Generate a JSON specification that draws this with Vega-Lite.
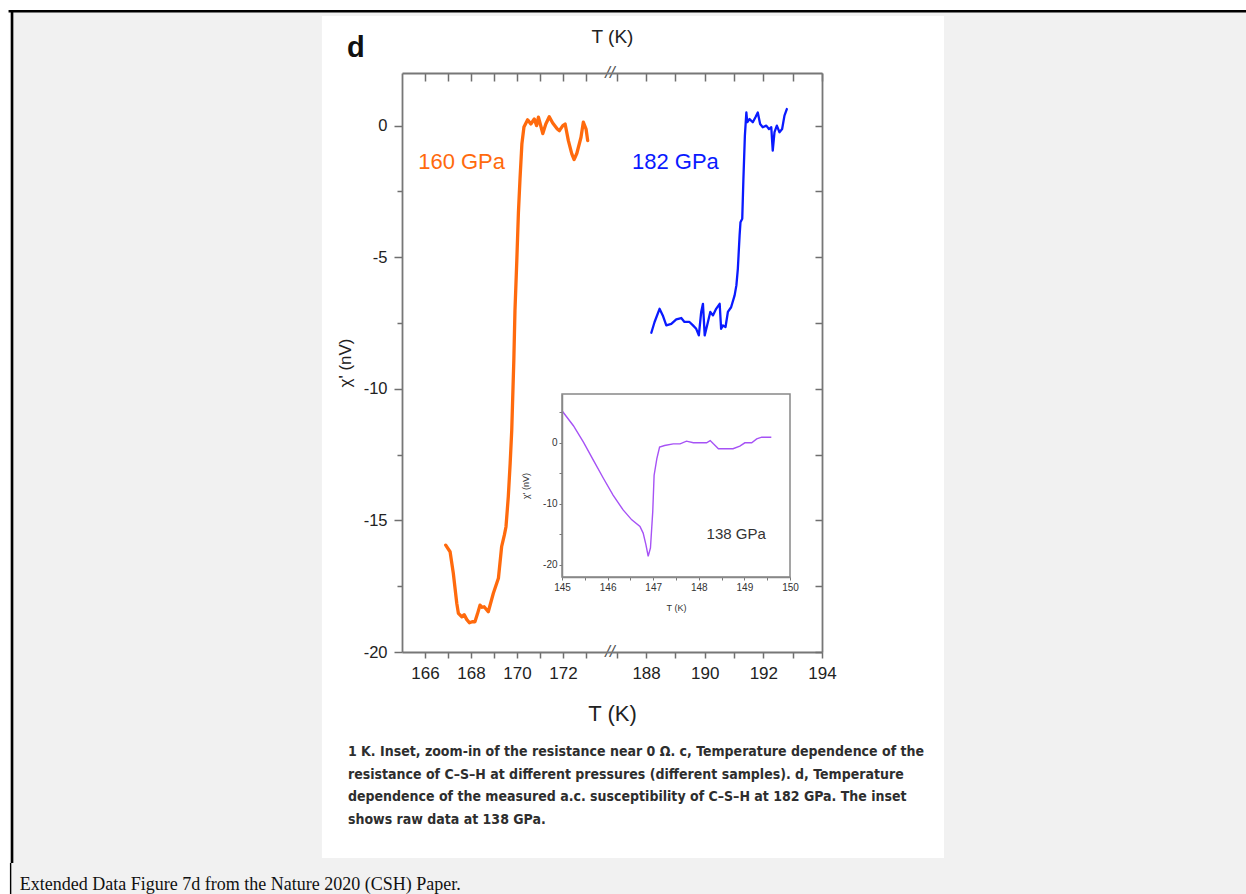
{
  "$schema": "https://vega.github.io/schema/vega-lite/v6.json",
  "width": 420,
  "height": 579,
  "autosize": {"type": "none"},
  "padding": {"left": 402, "top": 73, "right": 424, "bottom": 242},
  "background": "white",
  "config": {"view": {"stroke": null}, "font": "Liberation Sans", "axis": {"grid": false}},
  "layer": [
    {
      "data": {"values": [{"T": 147.96, "T2": 209, "chi": 4.394, "chi2": -29.5}]},
      "mark": {"type": "rect", "color": "#f1f1f1"},
      "encoding": {
        "x": {"field": "T", "type": "quantitative", "scale": {"domain": [165, 174.04, 186.77, 194], "range": [0, 208, 208, 420], "nice": false, "zero": false}, "axis": null},
        "x2": {"field": "T2"},
        "y": {"field": "chi", "type": "quantitative", "scale": {"domain": [-20, 2], "nice": false, "zero": false}, "axis": null},
        "y2": {"field": "chi2"}
      }
    },
    {
      "data": {"values": [{"T": 147.9, "T2": 209, "chi": 4.344}]},
      "mark": {"type": "rule", "color": "black", "strokeWidth": 2.6},
      "encoding": {
        "x": {"field": "T", "type": "quantitative", "scale": {"domain": [165, 174.04, 186.77, 194], "range": [0, 208, 208, 420], "nice": false, "zero": false}, "axis": null},
        "x2": {"field": "T2"},
        "y": {"field": "chi", "type": "quantitative", "scale": {"domain": [-20, 2], "nice": false, "zero": false}, "axis": null}
      }
    },
    {
      "data": {"values": [{"T": 148.052, "chi": 4.394, "chi2": -28.017}]},
      "mark": {"type": "rule", "color": "black", "strokeWidth": 2.6},
      "encoding": {
        "x": {"field": "T", "type": "quantitative", "scale": {"domain": [165, 174.04, 186.77, 194], "range": [0, 208, 208, 420], "nice": false, "zero": false}, "axis": null},
        "y": {"field": "chi", "type": "quantitative", "scale": {"domain": [-20, 2], "nice": false, "zero": false}, "axis": null},
        "y2": {"field": "chi2"}
      }
    },
    {
      "data": {"values": [{"T": 147.99, "chi": -28.017, "chi2": -29.5}]},
      "mark": {"type": "rule", "color": "black", "strokeWidth": 1.4},
      "encoding": {
        "x": {"field": "T", "type": "quantitative", "scale": {"domain": [165, 174.04, 186.77, 194], "range": [0, 208, 208, 420], "nice": false, "zero": false}, "axis": null},
        "y": {"field": "chi", "type": "quantitative", "scale": {"domain": [-20, 2], "nice": false, "zero": false}, "axis": null},
        "y2": {"field": "chi2"}
      }
    },
    {
      "data": {"values": [{"T": 161.52, "T2": 198.16, "chi": 4.166, "chi2": -27.83}]},
      "mark": {"type": "rect", "color": "white"},
      "encoding": {
        "x": {"field": "T", "type": "quantitative", "scale": {"domain": [165, 174.04, 186.77, 194], "range": [0, 208, 208, 420], "nice": false, "zero": false}, "axis": null},
        "x2": {"field": "T2"},
        "y": {"field": "chi", "type": "quantitative", "scale": {"domain": [-20, 2], "nice": false, "zero": false}, "axis": null},
        "y2": {"field": "chi2"}
      }
    },
    {
      "data": {"values": [
        {"series": "160 GPa", "T": 166.90, "chi": -15.94},
        {"series": "160 GPa", "T": 167.09, "chi": -16.19},
        {"series": "160 GPa", "T": 167.23, "chi": -17.01},
        {"series": "160 GPa", "T": 167.38, "chi": -18.15},
        {"series": "160 GPa", "T": 167.45, "chi": -18.53},
        {"series": "160 GPa", "T": 167.60, "chi": -18.66},
        {"series": "160 GPa", "T": 167.70, "chi": -18.58},
        {"series": "160 GPa", "T": 167.81, "chi": -18.76},
        {"series": "160 GPa", "T": 167.93, "chi": -18.89},
        {"series": "160 GPa", "T": 168.05, "chi": -18.85},
        {"series": "160 GPa", "T": 168.17, "chi": -18.85},
        {"series": "160 GPa", "T": 168.28, "chi": -18.55},
        {"series": "160 GPa", "T": 168.39, "chi": -18.22},
        {"series": "160 GPa", "T": 168.48, "chi": -18.30},
        {"series": "160 GPa", "T": 168.57, "chi": -18.28},
        {"series": "160 GPa", "T": 168.75, "chi": -18.47},
        {"series": "160 GPa", "T": 168.97, "chi": -17.77},
        {"series": "160 GPa", "T": 169.19, "chi": -17.20},
        {"series": "160 GPa", "T": 169.33, "chi": -16.00},
        {"series": "160 GPa", "T": 169.45, "chi": -15.55},
        {"series": "160 GPa", "T": 169.52, "chi": -15.24},
        {"series": "160 GPa", "T": 169.62, "chi": -14.10},
        {"series": "160 GPa", "T": 169.70, "chi": -12.84},
        {"series": "160 GPa", "T": 169.77, "chi": -11.57},
        {"series": "160 GPa", "T": 169.86, "chi": -8.92},
        {"series": "160 GPa", "T": 169.91, "chi": -7.02},
        {"series": "160 GPa", "T": 169.99, "chi": -5.12},
        {"series": "160 GPa", "T": 170.06, "chi": -3.30},
        {"series": "160 GPa", "T": 170.13, "chi": -2.00},
        {"series": "160 GPa", "T": 170.21, "chi": -0.70},
        {"series": "160 GPa", "T": 170.30, "chi": -0.05},
        {"series": "160 GPa", "T": 170.46, "chi": 0.22},
        {"series": "160 GPa", "T": 170.60, "chi": 0.06},
        {"series": "160 GPa", "T": 170.75, "chi": 0.25},
        {"series": "160 GPa", "T": 170.85, "chi": 0.00},
        {"series": "160 GPa", "T": 170.93, "chi": 0.32},
        {"series": "160 GPa", "T": 171.12, "chi": -0.30},
        {"series": "160 GPa", "T": 171.25, "chi": 0.06},
        {"series": "160 GPa", "T": 171.40, "chi": 0.34},
        {"series": "160 GPa", "T": 171.55, "chi": 0.10},
        {"series": "160 GPa", "T": 171.75, "chi": -0.13},
        {"series": "160 GPa", "T": 171.84, "chi": -0.19},
        {"series": "160 GPa", "T": 171.99, "chi": 0.00},
        {"series": "160 GPa", "T": 172.09, "chi": 0.06},
        {"series": "160 GPa", "T": 172.23, "chi": -0.57},
        {"series": "160 GPa", "T": 172.38, "chi": -1.07},
        {"series": "160 GPa", "T": 172.48, "chi": -1.29},
        {"series": "160 GPa", "T": 172.60, "chi": -1.05},
        {"series": "160 GPa", "T": 172.78, "chi": -0.44},
        {"series": "160 GPa", "T": 172.88, "chi": 0.13},
        {"series": "160 GPa", "T": 173.00, "chi": -0.13},
        {"series": "160 GPa", "T": 173.07, "chi": -0.57},
        {"series": "182 GPa", "T": 188.18, "chi": -7.87},
        {"series": "182 GPa", "T": 188.29, "chi": -7.46},
        {"series": "182 GPa", "T": 188.46, "chi": -6.96},
        {"series": "182 GPa", "T": 188.57, "chi": -7.21},
        {"series": "182 GPa", "T": 188.69, "chi": -7.59},
        {"series": "182 GPa", "T": 188.86, "chi": -7.53},
        {"series": "182 GPa", "T": 189.03, "chi": -7.36},
        {"series": "182 GPa", "T": 189.20, "chi": -7.31},
        {"series": "182 GPa", "T": 189.31, "chi": -7.46},
        {"series": "182 GPa", "T": 189.48, "chi": -7.46},
        {"series": "182 GPa", "T": 189.60, "chi": -7.59},
        {"series": "182 GPa", "T": 189.71, "chi": -7.72},
        {"series": "182 GPa", "T": 189.80, "chi": -7.97},
        {"series": "182 GPa", "T": 189.88, "chi": -7.08},
        {"series": "182 GPa", "T": 189.94, "chi": -6.77},
        {"series": "182 GPa", "T": 190.00, "chi": -7.97},
        {"series": "182 GPa", "T": 190.11, "chi": -7.46},
        {"series": "182 GPa", "T": 190.19, "chi": -7.08},
        {"series": "182 GPa", "T": 190.28, "chi": -7.21},
        {"series": "182 GPa", "T": 190.39, "chi": -6.96},
        {"series": "182 GPa", "T": 190.51, "chi": -6.77},
        {"series": "182 GPa", "T": 190.56, "chi": -7.72},
        {"series": "182 GPa", "T": 190.62, "chi": -7.59},
        {"series": "182 GPa", "T": 190.71, "chi": -7.65},
        {"series": "182 GPa", "T": 190.79, "chi": -7.08},
        {"series": "182 GPa", "T": 190.90, "chi": -6.90},
        {"series": "182 GPa", "T": 191.02, "chi": -6.45},
        {"series": "182 GPa", "T": 191.08, "chi": -6.07},
        {"series": "182 GPa", "T": 191.13, "chi": -5.44},
        {"series": "182 GPa", "T": 191.19, "chi": -4.17},
        {"series": "182 GPa", "T": 191.22, "chi": -3.67},
        {"series": "182 GPa", "T": 191.28, "chi": -3.54},
        {"series": "182 GPa", "T": 191.32, "chi": -2.02},
        {"series": "182 GPa", "T": 191.37, "chi": -0.38},
        {"series": "182 GPa", "T": 191.42, "chi": 0.50},
        {"series": "182 GPa", "T": 191.45, "chi": 0.13},
        {"series": "182 GPa", "T": 191.53, "chi": 0.25},
        {"series": "182 GPa", "T": 191.64, "chi": 0.13},
        {"series": "182 GPa", "T": 191.73, "chi": 0.32},
        {"series": "182 GPa", "T": 191.81, "chi": 0.50},
        {"series": "182 GPa", "T": 191.89, "chi": 0.06},
        {"series": "182 GPa", "T": 191.98, "chi": -0.06},
        {"series": "182 GPa", "T": 192.10, "chi": 0.00},
        {"series": "182 GPa", "T": 192.19, "chi": -0.13},
        {"series": "182 GPa", "T": 192.27, "chi": -0.06},
        {"series": "182 GPa", "T": 192.32, "chi": -0.95},
        {"series": "182 GPa", "T": 192.38, "chi": -0.25},
        {"series": "182 GPa", "T": 192.46, "chi": 0.00},
        {"series": "182 GPa", "T": 192.55, "chi": -0.25},
        {"series": "182 GPa", "T": 192.64, "chi": -0.13},
        {"series": "182 GPa", "T": 192.72, "chi": 0.38},
        {"series": "182 GPa", "T": 192.80, "chi": 0.63}
      ]},
      "mark": {"type": "line", "strokeJoin": "round", "strokeCap": "round"},
      "encoding": {
        "x": {"field": "T", "type": "quantitative", "scale": {"domain": [165, 174.04, 186.77, 194], "range": [0, 208, 208, 420], "nice": false, "zero": false},
          "axis": {"orient": "bottom", "zindex": 2, "values": [166, 167, 168, 169, 170, 171, 172, 173, 187, 188, 189, 190, 191, 192, 193, 194], "labelExpr": "datum.value % 2 == 0 ? '' + datum.value : ''", "labelFontSize": 17, "labelColor": "#222", "labelPadding": 7, "labelFlush": false, "labelOverlap": false, "tickSize": 6, "tickColor": "#6f6f6f", "tickWidth": 1.5, "domainColor": "#777", "domainWidth": 1.8, "title": "T (K)", "titleFontSize": 22, "titleFontWeight": "normal", "titleColor": "#222", "titlePadding": 22}},
        "y": {"field": "chi", "type": "quantitative", "scale": {"domain": [-20, 2], "nice": false, "zero": false},
          "axis": {"orient": "left", "zindex": 2, "values": [-20, -17.5, -15, -12.5, -10, -7.5, -5, -2.5, 0], "labelExpr": "datum.value % 5 == 0 ? '' + datum.value : ''", "labelFontSize": 16.5, "labelColor": "#222", "labelPadding": 7, "labelFlush": false, "labelOverlap": false, "tickSize": {"condition": {"test": "datum.value % 5 == 0", "value": 8}, "value": 5}, "tickColor": "#6f6f6f", "tickWidth": 1.5, "domainColor": "#777", "domainWidth": 1.8, "title": "χ' (nV)", "titleFontSize": 17, "titleFontWeight": "normal", "titleColor": "#222", "titlePadding": 9}},
        "color": {"field": "series", "type": "nominal", "scale": {"domain": ["160 GPa", "182 GPa"], "range": ["#ff6a0d", "#0a1aff"]}, "legend": null},
        "strokeWidth": {"field": "series", "type": "nominal", "scale": {"domain": ["160 GPa", "182 GPa"], "range": [3.3, 2.3]}, "legend": null}
      }
    },
    {
      "data": {"values": [
        {"series": "160 GPa", "T": 167.59, "chi": -1.38, "label": "160 GPa"},
        {"series": "182 GPa", "T": 189.0, "chi": -1.38, "label": "182 GPa"}
      ]},
      "mark": {"type": "text", "fontSize": 22, "align": "center", "baseline": "middle"},
      "encoding": {
        "x": {"field": "T", "type": "quantitative", "scale": {"domain": [165, 174.04, 186.77, 194], "range": [0, 208, 208, 420], "nice": false, "zero": false}, "axis": null},
        "y": {"field": "chi", "type": "quantitative", "scale": {"domain": [-20, 2], "nice": false, "zero": false}, "axis": null},
        "text": {"field": "label"},
        "color": {"field": "series", "type": "nominal", "scale": {"domain": ["160 GPa", "182 GPa"], "range": ["#ff6a0d", "#0a1aff"]}, "legend": null}
      }
    },
    {
      "data": {"values": [{"T": 163.0, "chi": 2.95, "label": "d"}]},
      "mark": {"type": "text", "fontSize": 29, "fontWeight": "bold", "align": "center", "baseline": "middle", "color": "#111"},
      "encoding": {
        "x": {"field": "T", "type": "quantitative", "scale": {"domain": [165, 174.04, 186.77, 194], "range": [0, 208, 208, 420], "nice": false, "zero": false}, "axis": null},
        "y": {"field": "chi", "type": "quantitative", "scale": {"domain": [-20, 2], "nice": false, "zero": false}, "axis": null},
        "text": {"field": "label"}
      }
    },
    {
      "data": {"values": [
        {"T": 162.65, "chi": -23.80, "label": "1 K. Inset, zoom-in of the resistance near 0 Ω. c, Temperature dependence of the"},
        {"T": 162.65, "chi": -24.67, "label": "resistance of C–S–H at different pressures (different samples). d, Temperature"},
        {"T": 162.65, "chi": -25.51, "label": "dependence of the measured a.c. susceptibility of C–S–H at 182 GPa. The inset"},
        {"T": 162.65, "chi": -26.38, "label": "shows raw data at 138 GPa."}
      ]},
      "mark": {"type": "text", "font": "DejaVu Sans Condensed", "fontSize": 14, "fontWeight": "bold", "align": "left", "baseline": "middle", "color": "#2e2e2e"},
      "encoding": {
        "x": {"field": "T", "type": "quantitative", "scale": {"domain": [165, 174.04, 186.77, 194], "range": [0, 208, 208, 420], "nice": false, "zero": false}, "axis": null},
        "y": {"field": "chi", "type": "quantitative", "scale": {"domain": [-20, 2], "nice": false, "zero": false}, "axis": null},
        "text": {"field": "label"}
      }
    },
    {
      "data": {"values": [{"T": 148.39, "chi": -28.85, "label": "Extended Data Figure 7d from the Nature 2020 (CSH) Paper."}]},
      "mark": {"type": "text", "font": "Liberation Serif", "fontSize": 18, "align": "left", "baseline": "middle", "color": "#111"},
      "encoding": {
        "x": {"field": "T", "type": "quantitative", "scale": {"domain": [165, 174.04, 186.77, 194], "range": [0, 208, 208, 420], "nice": false, "zero": false}, "axis": null},
        "y": {"field": "chi", "type": "quantitative", "scale": {"domain": [-20, 2], "nice": false, "zero": false}, "axis": null},
        "text": {"field": "label"}
      }
    },
    {
      "data": {"values": [{"T": 170, "chi": 0}]},
      "mark": {"type": "point", "opacity": 0},
      "encoding": {
        "x": {"field": "T", "type": "quantitative", "scale": {"domain": [165, 174.04, 186.77, 194], "range": [0, 208, 208, 420], "nice": false, "zero": false},
          "axis": {"orient": "top", "zindex": 2, "values": [166, 167, 168, 169, 170, 171, 172, 173, 187, 188, 189, 190, 191, 192, 193, 194], "labels": false, "tickSize": -8, "tickColor": "#6f6f6f", "tickWidth": 1.5, "domainColor": "#777", "domainWidth": 1.8, "title": "T (K)", "titleFontSize": 19, "titleFontWeight": "normal", "titleColor": "#222", "titlePadding": 26}},
        "y": {"field": "chi", "type": "quantitative", "scale": {"domain": [-20, 2], "nice": false, "zero": false},
          "axis": {"orient": "right", "zindex": 2, "values": [-20, -17.5, -15, -12.5, -10, -7.5, -5, -2.5, 0], "labels": false, "tickSize": -7, "tickColor": "#6f6f6f", "tickWidth": 1.5, "domainColor": "#777", "domainWidth": 1.8, "title": null}}
      }
    },
    {
      "data": {"values": [{"T": 145, "T2": 150, "chi": -22, "chi2": 8}]},
      "mark": {"type": "rect", "fill": "white", "stroke": "#888", "strokeWidth": 1.5},
      "encoding": {
        "x": {"field": "T", "type": "quantitative", "scale": {"domain": [145, 150], "range": [160, 388], "nice": false, "zero": false}, "axis": null},
        "x2": {"field": "T2"},
        "y": {"field": "chi", "type": "quantitative", "scale": {"domain": [-22, 8], "range": [504, 321], "nice": false, "zero": false}, "axis": null},
        "y2": {"field": "chi2"}
      }
    },
    {
      "data": {"values": [
        {"T": 145.00, "chi": 5.25},
        {"T": 145.25, "chi": 2.80},
        {"T": 145.47, "chi": 0.10},
        {"T": 145.69, "chi": -2.88},
        {"T": 145.91, "chi": -5.85},
        {"T": 146.12, "chi": -8.57},
        {"T": 146.34, "chi": -11.00},
        {"T": 146.53, "chi": -12.63},
        {"T": 146.71, "chi": -13.72},
        {"T": 146.78, "chi": -14.80},
        {"T": 146.84, "chi": -16.70},
        {"T": 146.89, "chi": -18.60},
        {"T": 146.94, "chi": -17.24},
        {"T": 146.99, "chi": -11.28},
        {"T": 147.02, "chi": -5.32},
        {"T": 147.08, "chi": -2.60},
        {"T": 147.14, "chi": -0.70},
        {"T": 147.25, "chi": -0.44},
        {"T": 147.44, "chi": -0.17},
        {"T": 147.59, "chi": -0.17},
        {"T": 147.73, "chi": 0.27},
        {"T": 147.88, "chi": 0.00},
        {"T": 148.03, "chi": 0.00},
        {"T": 148.17, "chi": 0.00},
        {"T": 148.25, "chi": 0.37},
        {"T": 148.32, "chi": -0.17},
        {"T": 148.43, "chi": -0.98},
        {"T": 148.61, "chi": -0.98},
        {"T": 148.75, "chi": -0.98},
        {"T": 148.90, "chi": -0.55},
        {"T": 149.01, "chi": 0.00},
        {"T": 149.16, "chi": 0.00},
        {"T": 149.27, "chi": 0.65},
        {"T": 149.38, "chi": 0.92},
        {"T": 149.59, "chi": 0.92}
      ]},
      "mark": {"type": "line", "color": "#a652f5", "strokeWidth": 1.4},
      "encoding": {
        "x": {"field": "T", "type": "quantitative", "scale": {"domain": [145, 150], "range": [160, 388], "nice": false, "zero": false},
          "axis": {"orient": "bottom", "zindex": 2, "offset": -75, "values": [145, 145.5, 146, 146.5, 147, 147.5, 148, 148.5, 149, 149.5, 150], "labelExpr": "datum.value % 1 == 0 ? '' + datum.value : ''", "labelFontSize": 10, "labelColor": "#333", "labelPadding": 2, "labelFlush": false, "labelOverlap": false, "tickSize": 3, "tickColor": "#777", "tickWidth": 1, "domainColor": "#888", "domainWidth": 1.5, "title": "T (K)", "titleFontSize": 9, "titleFontWeight": "normal", "titleColor": "#333", "titlePadding": 11}},
        "y": {"field": "chi", "type": "quantitative", "scale": {"domain": [-22, 8], "range": [504, 321], "nice": false, "zero": false},
          "axis": {"orient": "left", "zindex": 2, "offset": -160, "values": [-20, -15, -10, -5, 0, 5], "labelExpr": "datum.value % 10 == 0 ? '' + datum.value : ''", "labelFontSize": 10, "labelColor": "#333", "labelPadding": 2, "labelFlush": false, "labelOverlap": false, "tickSize": 3, "tickColor": "#777", "tickWidth": 1, "domainColor": "#888", "domainWidth": 1.5, "title": "χ' (nV)", "titleFontSize": 9, "titleFontWeight": "normal", "titleColor": "#333", "titlePadding": 12}}
      }
    },
    {
      "data": {"values": [{"T": 148.82, "chi": -14.9, "label": "138 GPa"}]},
      "mark": {"type": "text", "fontSize": 15, "align": "center", "baseline": "middle", "color": "#333"},
      "encoding": {
        "x": {"field": "T", "type": "quantitative", "scale": {"domain": [145, 150], "range": [160, 388], "nice": false, "zero": false}, "axis": null},
        "y": {"field": "chi", "type": "quantitative", "scale": {"domain": [-22, 8], "range": [504, 321], "nice": false, "zero": false}, "axis": null},
        "text": {"field": "label"}
      }
    },
    {
      "data": {"values": [{"T": 180, "chi": 2, "label": "//"}, {"T": 180, "chi": -20, "label": "//"}]},
      "mark": {"type": "text", "fontSize": 17, "fontStyle": "italic", "align": "center", "baseline": "middle", "color": "#555"},
      "encoding": {
        "x": {"field": "T", "type": "quantitative", "scale": {"domain": [165, 174.04, 186.77, 194], "range": [0, 208, 208, 420], "nice": false, "zero": false}, "axis": null},
        "y": {"field": "chi", "type": "quantitative", "scale": {"domain": [-20, 2], "nice": false, "zero": false}, "axis": null},
        "text": {"field": "label"}
      }
    }
  ],
  "resolve": {"scale": {"x": "independent", "y": "independent", "color": "independent", "strokeWidth": "independent"}, "axis": {"x": "independent", "y": "independent"}}
}
